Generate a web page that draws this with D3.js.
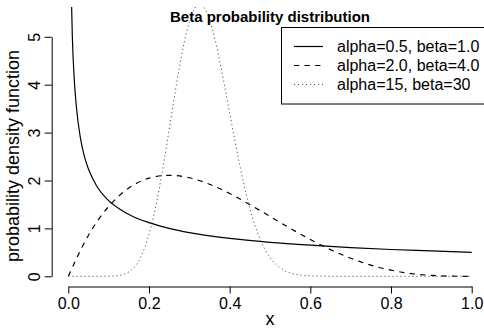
<!DOCTYPE html>
<html>
<head>
<meta charset="utf-8">
<script src="https://cdn.jsdelivr.net/npm/d3@7"></script>
<style>
  html, body { margin: 0; padding: 0; background: #fff; }
  svg { display: block; font-family: "Liberation Sans", Arial, Helvetica, sans-serif; }
</style>
</head>
<body>
<svg id="chart" width="484" height="329"></svg>
<script>
// Beta densities, sampled at x positions (value of the density at each x)
const solidX = [0.006, 0.01, 0.015, 0.02, 0.03, 0.04, 0.05, 0.07, 0.1, 0.13, 0.16, 0.2, 0.25, 0.3, 0.4, 0.5, 0.6, 0.7, 0.8, 0.9, 1.0];
const solidY = [6.45, 5.0, 4.08, 3.54, 2.89, 2.5, 2.24, 1.89, 1.58, 1.39, 1.25, 1.12, 1.0, 0.91, 0.79, 0.71, 0.65, 0.6, 0.56, 0.53, 0.5];

const dashedX = [0, 0.05, 0.1, 0.15, 0.2, 0.25, 0.3, 0.35, 0.4, 0.45, 0.5, 0.55, 0.6, 0.65, 0.7, 0.75, 0.8, 0.85, 0.9, 0.95, 1.0];
const dashedY = [0, 0.857, 1.458, 1.842, 2.048, 2.109, 2.058, 1.922, 1.728, 1.497, 1.25, 1.002, 0.768, 0.557, 0.378, 0.234, 0.128, 0.057, 0.018, 0.002, 0];

const dottedX = [0, 0.05, 0.1, 0.125, 0.1375, 0.15, 0.1625, 0.175, 0.1875, 0.2, 0.2125, 0.225, 0.2375, 0.25, 0.2625, 0.275, 0.2875, 0.3, 0.3125, 0.3256, 0.3375, 0.35, 0.3625, 0.375, 0.3875, 0.4, 0.4125, 0.425, 0.4375, 0.45, 0.4625, 0.475, 0.4875, 0.5, 0.5125, 0.525, 0.5375, 0.55, 0.5625, 0.575, 0.6, 0.65, 0.7, 0.8, 0.9, 1.0];
const dottedY = [0, 0, 0.0016, 0.0163, 0.041, 0.0904, 0.18, 0.329, 0.555, 0.874, 1.29, 1.81, 2.41, 3.06, 3.72, 4.35, 4.89, 5.31, 5.58, 5.68, 5.6, 5.36, 4.99, 4.51, 3.97, 3.41, 2.85, 2.32, 1.84, 1.42, 1.07, 0.787, 0.563, 0.392, 0.266, 0.175, 0.112, 0.07, 0.042, 0.025, 0.0078, 0.0005, 0, 0, 0, 0];

const seriesNames = ["alpha=0.5, beta=1.0", "alpha=2.0, beta=4.0", "alpha=15, beta=30"];
const xTicks = [0, 0.2, 0.4, 0.6, 0.8, 1.0];
const yTicks = [0, 1, 2, 3, 4, 5];

const chartTitle = "Beta probability distribution";
const xTitle = "x";
const yTitle = "probability density function";

// plotting region (pixels)
const plot = { left: 52.2, right: 487.8, top: 7, bottom: 286.5 };

const x = d3.scaleLinear().domain([0, 1]).range([68.3, 471.7]);
const y = d3.scaleLinear().domain([0, 5]).range([276.3, 36.8]);

const svg = d3.select("#chart");

svg.append("defs").append("clipPath").attr("id", "plotClip")
  .append("rect")
  .attr("x", plot.left).attr("y", plot.top)
  .attr("width", plot.right - plot.left).attr("height", plot.bottom - plot.top);

const styles = [
  { dash: null, color: "#000", width: 1.2 },
  { dash: "5.3,5.3", color: "#000", width: 1.2 },
  { dash: "1.2,2.8", color: "#555", width: 1.0 }
];

const series = [
  d3.zip(solidX, solidY),
  d3.zip(dashedX, dashedY),
  d3.zip(dottedX, dottedY)
];

const line = d3.line()
  .x(d => x(d[0]))
  .y(d => y(d[1]))
  .curve(d3.curveMonotoneX);

const curves = svg.append("g").attr("clip-path", "url(#plotClip)");
series.forEach((s, i) => {
  curves.append("path")
    .datum(s)
    .attr("d", line)
    .attr("fill", "none")
    .attr("stroke", styles[i].color)
    .attr("stroke-width", styles[i].width)
    .attr("stroke-dasharray", styles[i].dash);
});

// x axis
const xAxis = svg.append("g")
  .attr("transform", `translate(0,${plot.bottom})`)
  .call(d3.axisBottom(x).tickValues(xTicks).tickFormat(d3.format(".1f")).tickSize(7).tickSizeOuter(0).tickPadding(4));
xAxis.selectAll("path, line").attr("stroke", "#000").attr("stroke-width", 1);
xAxis.selectAll("text").attr("font-size", 16).attr("fill", "#000")
  .attr("font-family", "Liberation Sans, Arial, sans-serif");

// y axis
const yAxis = svg.append("g")
  .attr("transform", `translate(${plot.left - 0.5},0)`)
  .call(d3.axisLeft(y).tickValues(yTicks).tickFormat(d3.format("d")).tickSize(7).tickSizeOuter(0));
yAxis.selectAll("path, line").attr("stroke", "#000").attr("stroke-width", 1);
yAxis.selectAll("text")
  .attr("x", null).attr("dy", null)
  .attr("transform", "translate(-11.7,0) rotate(-90)")
  .attr("text-anchor", "middle")
  .attr("font-size", 16).attr("fill", "#000")
  .attr("font-family", "Liberation Sans, Arial, sans-serif");

// titles
svg.append("text")
  .attr("x", (plot.left + plot.right) / 2).attr("y", 22)
  .attr("text-anchor", "middle")
  .attr("font-size", 15).attr("font-weight", "bold")
  .text(chartTitle);

svg.append("text")
  .attr("x", (plot.left + plot.right) / 2).attr("y", 325)
  .attr("text-anchor", "middle")
  .attr("font-size", 18)
  .text(xTitle);

svg.append("text")
  .attr("transform", "translate(19,156) rotate(-90)")
  .attr("text-anchor", "middle")
  .attr("font-size", 18)
  .text(yTitle);

// legend
const legend = svg.append("g");
legend.append("rect")
  .attr("x", 281.5).attr("y", 27.5)
  .attr("width", plot.right - 281.5).attr("height", 104 - 27.5)
  .attr("fill", "#fff").attr("stroke", "#000").attr("stroke-width", 1);

const rowY = [46.5, 65.5, 84.5];
seriesNames.forEach((name, i) => {
  legend.append("line")
    .attr("x1", 294).attr("x2", 323)
    .attr("y1", rowY[i]).attr("y2", rowY[i])
    .attr("stroke", styles[i].color)
    .attr("stroke-width", styles[i].width)
    .attr("stroke-dasharray", styles[i].dash);
  legend.append("text")
    .attr("x", 337).attr("y", rowY[i]).attr("dy", "0.36em")
    .attr("font-size", 16)
    .text(name);
});
</script>
</body>
</html>
